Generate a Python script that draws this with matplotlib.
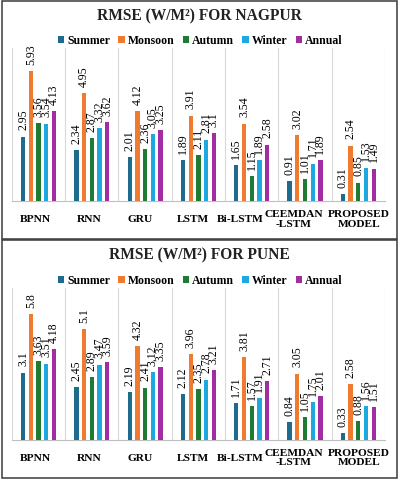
import numpy as np
import matplotlib
matplotlib.use("Agg")
import matplotlib.pyplot as plt
from matplotlib.patches import Rectangle
from matplotlib.transforms import ScaledTranslation

# === DATA ===
models = ["BPNN", "RNN", "GRU", "LSTM", "Bi-LSTM", "CEEMDAN\n-LSTM", "PROPOSED\nMODEL"]
seasons = ["Summer", "Monsoon", "Autumn", "Winter", "Annual"]
colors = ["#1F6B8E", "#EF7B30", "#1F7A34", "#1DA8E0", "#A22DA3"]

nagpur_summer = [2.95, 2.34, 2.01, 1.89, 1.65, 0.91, 0.31]
nagpur_monsoon = [5.93, 4.95, 4.12, 3.91, 3.54, 3.02, 2.54]
nagpur_autumn = [3.56, 2.87, 2.36, 2.11, 1.15, 1.01, 0.85]
nagpur_winter = [3.54, 3.32, 3.05, 2.81, 1.89, 1.71, 1.53]
nagpur_annual = [4.13, 3.62, 3.25, 3.1, 2.58, 1.89, 1.49]

pune_summer = [3.1, 2.45, 2.19, 2.12, 1.71, 0.84, 0.33]
pune_monsoon = [5.8, 5.1, 4.32, 3.96, 3.81, 3.05, 2.58]
pune_autumn = [3.63, 2.89, 2.41, 2.35, 1.57, 1.05, 0.88]
pune_winter = [3.51, 3.47, 3.12, 2.78, 1.91, 1.75, 1.56]
pune_annual = [4.18, 3.59, 3.35, 3.21, 2.71, 2.01, 1.51]

# small horizontal nudges of the category labels (pixels), as in the original
label_shift = [-3, -3, -5, -6, -11, -11, 1]

plt.rcParams['font.family'] = ['Liberation Serif', 'DejaVu Serif']

fig = plt.figure(figsize=(3.98, 4.8), dpi=100)

def draw_panel(ax, series, title, title_y, legend_y):
    x = np.arange(len(models))
    step = 0.145
    width = 0.08
    for k, (vals, name, c) in enumerate(zip(series, seasons, colors)):
        pos = x + (k - 2) * step
        bars = ax.bar(pos, vals, width=width, color=c, label=name, zorder=3)
        for b, v in zip(bars, vals):
            ax.annotate(f"{v:g}", (b.get_x() + b.get_width() / 2, b.get_height()),
                        xytext=(0, 4.5), textcoords="offset points",
                        ha="center", va="bottom", rotation=90, fontsize=8.5)
    ax.set_xlim(-0.5, len(models) - 0.5)
    ax.set_ylim(0, 7)
    ax.set_yticks([])
    ax.set_xticks(x)
    ax.set_xticklabels(models, fontsize=8.2, fontweight="bold", va="center", linespacing=1.1)
    ax.tick_params(axis="x", length=0, pad=13)
    for lab, dx in zip(ax.get_xticklabels(), label_shift):
        lab.set_transform(lab.get_transform() + ScaledTranslation(dx / 100, 0, fig.dpi_scale_trans))
    ax.set_xticks(np.arange(-0.5, len(models)), minor=True)
    ax.tick_params(axis="x", which="minor", length=0)
    ax.grid(True, axis="x", which="minor", color="#D9D9D9", linewidth=0.8, zorder=0)
    for s in ["top", "left", "right"]:
        ax.spines[s].set_visible(False)
    ax.spines["bottom"].set_color("#BFBFBF")
    ax.spines["bottom"].set_linewidth(0.8)
    fig.text(0.5, title_y, title, ha="center", va="center",
             fontsize=11.2, fontweight="bold", color="#222222")
    fig.legend(*ax.get_legend_handles_labels(), loc="center",
               bbox_to_anchor=(0.503, legend_y), ncol=5, frameon=False,
               handlelength=0.55, handleheight=0.55, handletextpad=0.25,
               columnspacing=0.7, prop={"weight": "bold", "size": 8.5})

ax1 = fig.add_axes([0.030, 0.581, 0.937, 0.319])
draw_panel(ax1, [nagpur_summer, nagpur_monsoon, nagpur_autumn, nagpur_winter, nagpur_annual],
           "RMSE (W/M²) FOR NAGPUR", 0.965, 0.915)

ax2 = fig.add_axes([0.030, 0.0833, 0.937, 0.317])
draw_panel(ax2, [pune_summer, pune_monsoon, pune_autumn, pune_winter, pune_annual],
           "RMSE (W/M²) FOR PUNE", 0.467, 0.415)

# panel borders
for y0, h in [(0.503, 0.494), (0.004, 0.496)]:
    fig.patches.append(Rectangle((0.004, y0), 0.993, h, transform=fig.transFigure,
                                 fill=False, edgecolor="#3A3A3A", linewidth=1.1))

fig.savefig("out.png", dpi=100)
